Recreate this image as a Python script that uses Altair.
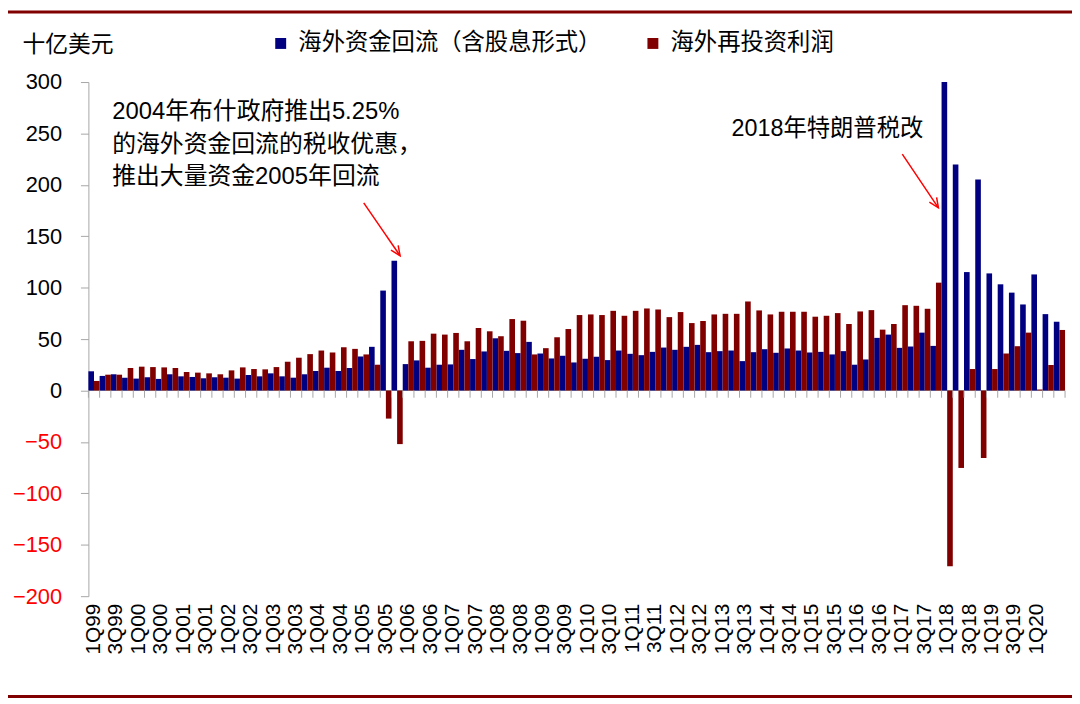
import altair as alt
import pandas as pd

years = list(range(1999, 2021))
quarters = [f"{q}Q{str(y)[2:]}" for y in years for q in (1, 2, 3, 4)][:87]

repatriation = [
    18.7, 14.2, 15.8, 12.5, 11.6, 12.9, 11.3, 15.8, 13.8, 13.2, 11.9, 12.9,
    12.5, 11.6, 15.1, 13.8, 16.7, 13.8, 12.5, 15.8, 19.0, 22.2,
    19.0, 21.9, 33.1, 42.5, 97.2, 126.1, 25.7, 29.3, 22.2, 25.1, 25.4, 39.6,
    30.6, 38.0, 50.8, 38.6, 36.4, 47.3, 36.0, 31.2, 33.8, 27.3,
    30.9, 32.8, 29.6, 38.9, 35.7, 34.4, 37.6, 41.8, 39.6, 42.5, 44.4, 37.3,
    38.3, 38.9, 28.6, 37.3, 40.2, 36.7, 40.9, 38.9, 37.0,
    37.6, 35.1, 38.3, 25.1, 30.2, 51.2, 54.4, 41.5, 42.8, 56.3, 43.4,
    300.0, 219.8, 115.2, 205.3, 113.9, 103.3, 95.2, 83.7, 112.9, 74.3, 66.9,
]
reinvested = [
    9.3, 15.4, 15.4, 21.9, 23.2, 22.8, 22.5, 21.9, 18.0, 17.4, 16.7, 15.8,
    19.6, 22.5, 20.9, 20.6, 22.8, 28.0, 31.9, 35.4, 38.9, 37.0,
    42.1, 40.5, 35.1, 25.1, -27.3, -52.1, 47.9, 48.3, 55.3, 54.4, 56.0, 47.9,
    60.8, 57.6, 52.8, 69.5, 67.9, 35.1, 41.2, 51.8, 59.8, 73.4,
    74.0, 73.4, 77.5, 72.7, 77.5, 79.8, 78.8, 71.4, 76.3, 65.6, 67.6, 74.0,
    74.6, 74.6, 86.6, 77.9, 74.0, 76.6, 76.6, 76.6, 71.8,
    72.7, 75.3, 64.7, 76.9, 78.2, 59.2, 64.7, 83.0, 82.4, 79.5, 104.9,
    -171.0, -75.3, 20.9, -65.6, 20.9, 36.0, 43.1, 56.3, 1.0, 24.8, 58.9,
]
series_names = ["海外资金回流（含股息形式）", "海外再投资利润"]
series_colors = ["#000080", "#800000"]
y_ticks = list(range(-200, 301, 50))
x_tick_labels = quarters[:85:2]

annot1_lines = ["2004年布什政府推出5.25%", "的海外资金回流的税收优惠，", "推出大量资金2005年回流"]
annot2_text = "2018年特朗普税改"

df = pd.DataFrame({
    "quarter": quarters * 2,
    "series": [series_names[0]] * len(quarters) + [series_names[1]] * len(quarters),
    "value": repatriation + reinvested,
})
qdf = pd.DataFrame({"quarter": quarters})
one = pd.DataFrame({"k": [0]})

FONT = "Liberation Sans, Noto Sans CJK SC"
GRAY = "#A6A6A6"

xscale = alt.Scale(domain=quarters, paddingInner=0, paddingOuter=0)
yscale = alt.Scale(domain=[-200, 300], nice=False, zero=False)

x_axis = alt.Axis(values=x_tick_labels, labelAngle=-90, domain=False, ticks=False,
                  labelPadding=7, labelFontSize=21, labelFont="Liberation Sans",
                  labelColor="black", title=None, grid=False)
y_axis = alt.Axis(values=y_ticks, grid=False, domainColor=GRAY, tickColor=GRAY, tickSize=8,
                  labelPadding=19, labelFontSize=22, labelFont="Liberation Sans",
                  labelColor={"condition": {"test": "datum.value < 0", "value": "#FF0000"},
                              "value": "black"},
                  title="十亿美元", titleAngle=0, titleX=-67, titleY=-38, titleAlign="left",
                  titleBaseline="middle", titleFont=FONT, titleFontSize=23,
                  titleFontWeight="normal", titleColor="black")

bars = alt.Chart(df).mark_bar(strokeWidth=0).encode(
    x=alt.X("quarter:N", sort=quarters, scale=xscale, axis=x_axis),
    xOffset=alt.XOffset("series:N", sort=series_names,
                        scale=alt.Scale(domain=series_names, paddingInner=0, paddingOuter=0)),
    y=alt.Y("value:Q", scale=yscale, axis=y_axis, stack=None),
    color=alt.Color("series:N", sort=series_names,
                    scale=alt.Scale(domain=series_names, range=series_colors),
                    legend=alt.Legend(orient="none", legendX=182, legendY=-51,
                                      direction="horizontal", title=None,
                                      symbolType="square", symbolSize=121,
                                      symbolStrokeWidth=0, symbolOpacity=1,
                                      labelFontSize=23.5, labelFont=FONT, labelColor="black",
                                      labelOffset=6, labelLimit=0, columnPadding=40,
                                      padding=0)),
)

zero_line = alt.Chart(one).mark_rule(color=GRAY, strokeWidth=1).encode(y=alt.datum(0))

cat_ticks = alt.Chart(qdf).mark_rule(color=GRAY, strokeWidth=1).encode(
    x=alt.X("quarter:N", sort=quarters, scale=xscale, bandPosition=0),
    y=alt.datum(0), y2=alt.datum(-7),
)
end_tick = alt.Chart(one).mark_rule(color=GRAY, strokeWidth=1).encode(
    x=alt.value(984), y=alt.datum(0), y2=alt.datum(-7))

annot1 = alt.Chart(one).mark_text(
    text=annot1_lines, align="left", baseline="middle", lineHeight=33,
    fontSize=24, font=FONT, color="black",
).encode(x=alt.value(24), y=alt.value(30))

annot2 = alt.Chart(one).mark_text(
    text=annot2_text, align="left", baseline="middle",
    fontSize=23.5, font=FONT, color="black",
).encode(x=alt.value(648), y=alt.value(47))

ARROW = "M-0.45,-1L0,0L0.45,-1"
arrow1 = alt.Chart(one).mark_rule(color="#FF0000", strokeWidth=1.5).encode(
    x=alt.value(277.4), y=alt.value(121.7), x2=alt.value(314), y2=alt.value(175))
head1 = alt.Chart(one).mark_point(shape=ARROW, size=380, angle=325.5, filled=False,
                                  color="#FF0000", strokeWidth=1.5, opacity=1).encode(
    x=alt.value(314), y=alt.value(175))
arrow2 = alt.Chart(one).mark_rule(color="#FF0000", strokeWidth=1.5).encode(
    x=alt.value(820), y=alt.value(72.7), x2=alt.value(856.4), y2=alt.value(126.7))
head2 = alt.Chart(one).mark_point(shape=ARROW, size=380, angle=326, filled=False,
                                  color="#FF0000", strokeWidth=1.5, opacity=1).encode(
    x=alt.value(856.4), y=alt.value(126.7))

top_border = alt.Chart(one).mark_rule(color="#800000", strokeWidth=3).encode(
    x=alt.value(-82), x2=alt.value(992), y=alt.value(-70.5))
bottom_border = alt.Chart(one).mark_rule(color="#800000", strokeWidth=3).encode(
    x=alt.value(-82), x2=alt.value(992), y=alt.value(619))

chart = alt.layer(
    zero_line, bars, cat_ticks, end_tick, annot1, annot2,
    arrow1, head1, arrow2, head2, top_border, bottom_border,
).properties(
    width=984, height=518,
    autosize=alt.AutoSizeParams(type="none"),
    padding={"left": 81, "top": 72, "right": 7, "bottom": 102},
    background="white",
).configure_view(stroke=None)

chart.save("out.html", embed_options={"renderer": "svg", "actions": False})
